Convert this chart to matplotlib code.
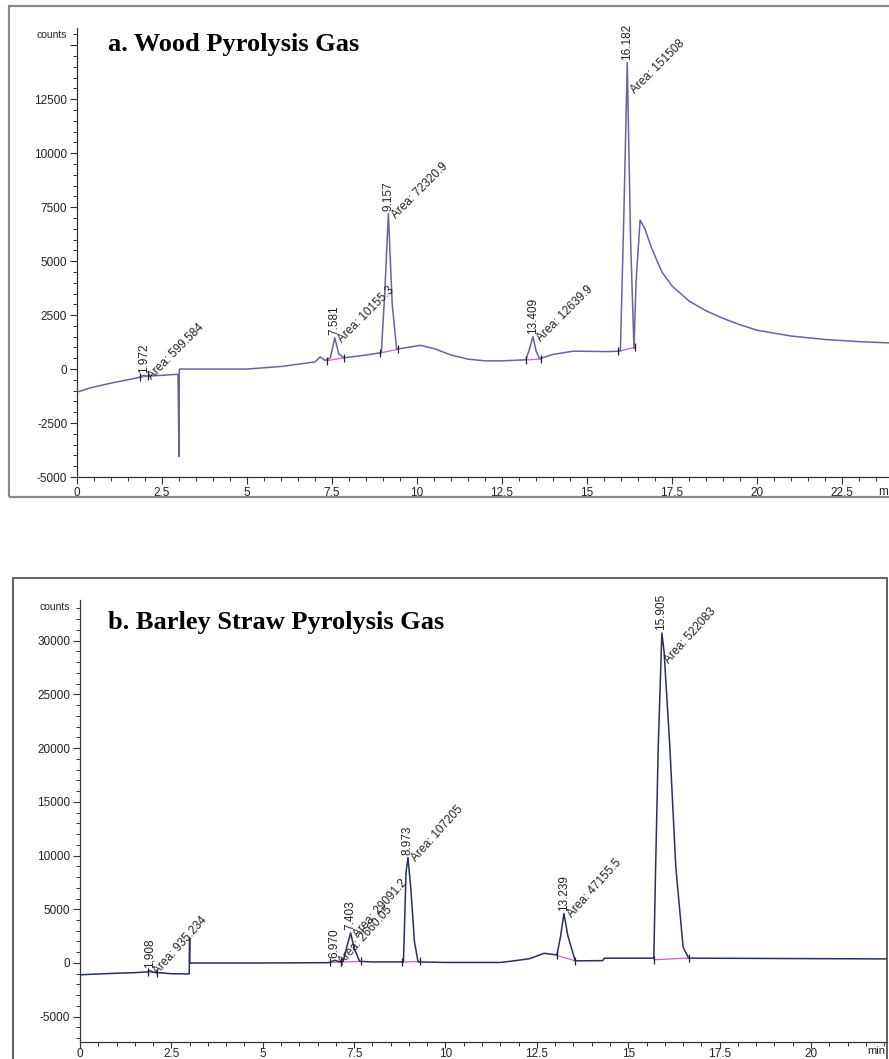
import numpy as np
import matplotlib.pyplot as plt
from matplotlib.patches import Rectangle
from matplotlib.ticker import MultipleLocator, FuncFormatter

W, H = 889, 1059
dpi = 100

# ---- a. wood pyrolysis gas (time in min, signal in counts) ----
t_a = [0, 0.4, 1.0, 1.8, 1.9, 1.97, 2.05, 2.5, 2.97, 3.0, 3.01, 5.0, 6.0, 7.0, 7.15,
       7.3, 7.45, 7.58, 7.7, 7.85, 8.5, 8.95, 9.05, 9.157, 9.27, 9.4, 10.1, 10.5, 11.0,
       11.5, 12.0, 12.5, 13.2, 13.3, 13.409, 13.5, 13.6, 14.0, 14.6, 15.6, 15.98, 16.08,
       16.182, 16.28, 16.38, 16.44, 16.56, 16.7, 16.9, 17.2, 17.5, 18.0, 18.5, 19.0, 19.5,
       20.0, 21.0, 22.0, 23.0, 23.9]
y_a = [-1070, -870, -650, -400, -330, -280, -330, -290, -240, -4050, 0, 0, 120, 330, 560,
       400, 520, 1450, 700, 520, 650, 760, 3500, 7200, 3000, 920, 1100, 950, 650,
       460, 380, 380, 430, 900, 1500, 850, 480, 680, 830, 810, 830, 7000,
       14200, 6000, 950, 4000, 6900, 6500, 5600, 4500, 3850, 3150, 2700, 2350, 2050,
       1800, 1530, 1370, 1270, 1210]
peaks_a = ['1.972', '7.581', '9.157', '13.409', '16.182']
peak_t_a = [1.97, 7.58, 9.157, 13.409, 16.182]
peak_h_a = [-300, 1450, 7200, 1500, 14200]
areas_a = ['Area: 599.584', 'Area: 10155.3', 'Area: 72320.9', 'Area: 12639.9', 'Area: 151508']
base_a = [((1.85, -390), (2.1, -320)), ((7.35, 390), (7.85, 520)), ((8.9, 740), (9.45, 920)),
          ((13.2, 420), (13.65, 470)), ((15.92, 820), (16.4, 1000))]

# ---- b. barley straw pyrolysis gas ----
t_b = [0, 0.3, 1.0, 1.5, 1.85, 1.91, 2.0, 2.5, 2.99, 3.0, 3.0, 3.01, 5.0, 6.8, 6.97,
       7.1, 7.2, 7.3, 7.403, 7.5, 7.65, 8.0, 8.85, 8.92, 8.973, 9.05, 9.15, 9.25, 10.0,
       11.5, 11.85, 12.3, 12.7, 13.05, 13.15, 13.24, 13.35, 13.55, 14.3, 14.35, 15.7,
       15.75, 15.82, 15.92, 15.98, 16.14, 16.3, 16.5, 16.65, 22.08]
y_b = [-1100, -1050, -950, -900, -820, -700, -850, -1000, -1020, 2330, 0, 0, 0, 30, 250,
       120, 150, 1500, 2800, 1400, 150, 100, 100, 8400, 9800, 7000, 2000, 100, 50,
       50, 190, 400, 900, 750, 2500, 4600, 2500, 200, 220, 450, 450,
       9000, 20000, 30700, 29000, 20000, 9000, 1500, 450, 380]
peaks_b = ['1,908', '6.970', '7.403', '8.973', '13.239', '15.905']
peak_t_b = [1.908, 6.97, 7.403, 8.973, 13.239, 15.905]
peak_h_b = [-700, 250, 2800, 9800, 4600, 30700]
areas_b = ['Area: 935.234', 'Area: 2660.05', 'Area: 29091.2', 'Area: 107205', 'Area: 47155.5',
           'Area: 522083']
base_b = [((1.85, -880), (2.1, -900)), ((6.85, 60), (7.15, 80)), ((7.15, 80), (7.7, 150)),
          ((8.8, 80), (9.3, 150)), ((13.05, 700), (13.55, 200)), ((15.7, 300), (16.65, 460))]

plt.rcParams['font.family'] = ['Liberation Sans', 'DejaVu Sans']

fig = plt.figure(figsize=(W / dpi, H / dpi), dpi=dpi)


def px_rect(x0, y0, x1, y1):
    # pixel box (top-left origin) -> figure fraction [l, b, w, h]
    return [x0 / W, 1 - y1 / H, (x1 - x0) / W, (y1 - y0) / H]


def setup(ax, xlim, ylim, ymaj, ymin_, ylab_max):
    ax.set_xlim(xlim)
    ax.set_ylim(ylim)
    for s in ['top', 'right']:
        ax.spines[s].set_visible(False)
    for s in ['left', 'bottom']:
        ax.spines[s].set_color('#333333')
        ax.spines[s].set_linewidth(0.9)
    ax.xaxis.set_major_locator(MultipleLocator(2.5))
    ax.xaxis.set_minor_locator(MultipleLocator(0.5))
    ax.yaxis.set_major_locator(MultipleLocator(ymaj))
    ax.yaxis.set_minor_locator(MultipleLocator(ymin_))
    ax.xaxis.set_major_formatter(FuncFormatter(lambda v, p: f'{v:g}'))
    ax.yaxis.set_major_formatter(FuncFormatter(lambda v, p: f'{v:.0f}' if v <= ylab_max else ''))
    ax.tick_params(which='major', direction='out', length=5, width=0.8, color='#333333',
                   labelsize=8.5, labelcolor='#222222', pad=2)
    ax.tick_params(which='minor', direction='out', length=3, width=0.7, color='#333333')
    ax.patch.set_alpha(0)


def draw(ax, t, y, col, peaks, pt, ph, areas, bases, adrop, arot):
    ax.plot(t, y, color=col, lw=1.1, zorder=3)
    for (a, b) in bases:
        ax.plot([a[0], b[0]], [a[1], b[1]], color='#d060d0', lw=0.9, zorder=2)
        ax.plot([a[0], b[0]], [a[1], b[1]], ls='none', marker='|', ms=6, mew=0.9,
                color='#222222', zorder=4)
    for lab, x, h, ar, dd in zip(peaks, pt, ph, areas, adrop):
        ax.annotate(lab, xy=(x, h), xytext=(0, 2), textcoords='offset points',
                    rotation=90, rotation_mode='anchor', ha='left', va='center',
                    fontsize=8.5, color='#222222', zorder=5)
        ax.annotate(ar, xy=(x, h), xytext=(4, -2 - dd), textcoords='offset points',
                    rotation=arot, rotation_mode='anchor', ha='left', va='center',
                    fontsize=8.5, color='#222222', zorder=5)


# frames
fig.patches.append(Rectangle((9 / W, 1 - 497 / H), (905 - 9) / W, (497 - 6) / H,
                             transform=fig.transFigure, fill=False, ec='#8a8a8a', lw=1.6))
fig.patches.append(Rectangle((13 / W, -0.02), (887 - 13) / W, 1 - 578 / H + 0.02,
                             transform=fig.transFigure, fill=False, ec='#555555', lw=1.3))

# top panel
ax1 = fig.add_axes(px_rect(77, 28, 889, 477))
setup(ax1, (0, 23.88), (-5000, 15800), 2500, 500, 12500)
draw(ax1, t_a, y_a, '#6464a8', peaks_a, peak_t_a, peak_h_a, areas_a, base_a,
     [0, 0, 0, 0, 19], 45)
ax1.text(-0.012, 0.985, 'counts', transform=ax1.transAxes, ha='right', va='center',
         fontsize=7.5, color='#222222')
ax1.text(23.55, -5400, 'm', ha='left', va='top', fontsize=8.5, color='#222222',
         clip_on=False)
fig.text(108 / W, 1 - 44 / H, 'a. Wood Pyrolysis Gas', family='Liberation Serif',
         weight='bold', fontsize=19, ha='left', va='center')

# bottom panel
ax2 = fig.add_axes(px_rect(80, 600, 887, 1042))
setup(ax2, (0, 22.08), (-7350, 33770), 5000, 1000, 30000)
ax2.tick_params(axis='x', which='major', length=4, pad=0)
draw(ax2, t_b, y_b, '#283060', peaks_b, peak_t_b, peak_h_b, areas_b, base_b,
     [0, 0, 0, 0, 0, 19], 48)
ax2.text(-0.012, 0.985, 'counts', transform=ax2.transAxes, ha='right', va='center',
         fontsize=7.5, color='#222222')
ax2.text(21.8, -7750, 'min', ha='center', va='top', fontsize=8, color='#222222',
         clip_on=False)
fig.text(108 / W, 1 - 622 / H, 'b. Barley Straw Pyrolysis Gas', family='Liberation Serif',
         weight='bold', fontsize=19, ha='left', va='center')

fig.savefig('out.png', dpi=dpi)
